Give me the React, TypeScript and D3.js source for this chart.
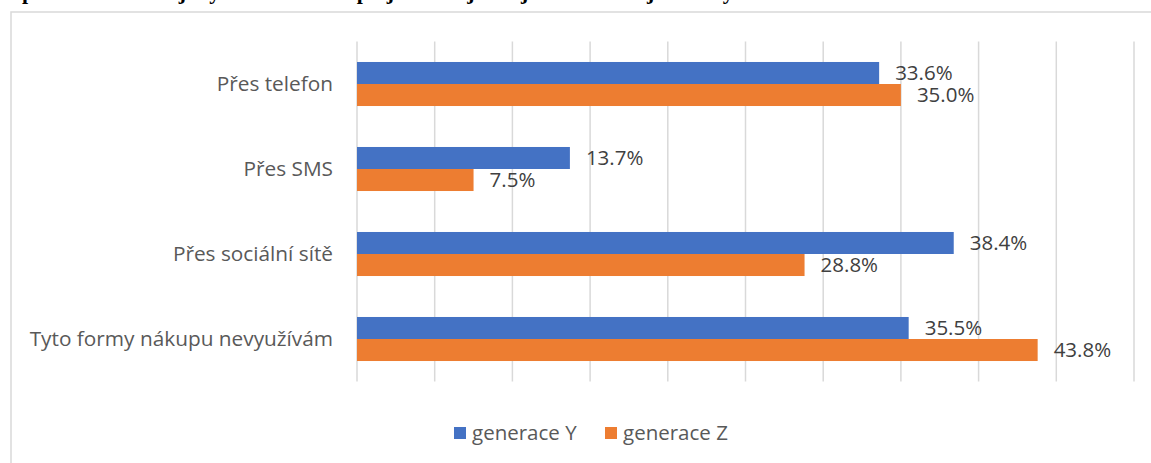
import * as d3 from "d3";

const categories = [
  "Přes telefon",
  "Přes SMS",
  "Přes sociální sítě",
  "Tyto formy nákupu nevyužívám",
];
const seriesNames = ["generace Y", "generace Z"];
const genY = [33.6, 13.7, 38.4, 35.5];
const genZ = [35.0, 7.5, 28.8, 43.8];
const xTicks = [0, 5, 10, 15, 20, 25, 30, 35, 40, 45, 50];
const titleText = "prostřednictvím jakých forem nákupu jste si nejčastěji zadávali objednávky?";

const COLORS = ["#4472C4", "#ED7D31"];
const W = 1151;
const H = 463;
const FONT = "'Open Sans', 'Noto Sans', sans-serif";

export default function App() {
  const series = [genY, genZ];
  const x = d3.scaleLinear().domain([0, 50]).range([357, 1134]);
  const y = d3
    .scaleBand<string>()
    .domain(categories)
    .range([41.5, 381.5])
    .paddingInner(0.482)
    .paddingOuter(0.241);
  const inner = d3
    .scaleBand<string>()
    .domain(seriesNames)
    .range([0, y.bandwidth()]);

  return (
    <div style={{ position: "fixed", left: 0, top: 0 }}>
      <svg width={W} height={H} viewBox={`0 0 ${W} ${H}`} style={{ display: "block", background: "#fff" }}>
        {/* caption of the figure, cropped at the top edge */}
        <text
          x={22}
          y={-1}
          fontFamily="'Liberation Serif', 'Times New Roman', serif"
          fontWeight="bold"
          fontSize={22}
          fill="#000"
        >
          {titleText}
        </text>

        {/* chart area border */}
        <rect x={11} y={12} width={W + 20} height={H + 20} fill="#fff" stroke="#d9d9d9" strokeWidth={1.5} />

        {/* gridlines */}
        {xTicks.map((t) => (
          <line
            key={t}
            x1={x(t)}
            x2={x(t)}
            y1={41.5}
            y2={381.5}
            stroke="#d9d9d9"
            strokeWidth={1.5}
          />
        ))}

        {/* bars + value labels */}
        {categories.map((c, i) =>
          seriesNames.map((s, j) => {
            const v = series[j][i];
            const by = (y(c) ?? 0) + (inner(s) ?? 0);
            return (
              <g key={c + s}>
                <rect
                  x={x(0)}
                  y={by}
                  width={x(v) - x(0)}
                  height={inner.bandwidth()}
                  fill={COLORS[j]}
                />
                <text
                  x={x(v) + 16}
                  y={by + inner.bandwidth() / 2}
                  dy="0.35em"
                  fontFamily={FONT}
                  fontSize={20.5}
                  fill="#404040"
                >
                  {v.toFixed(1)}%
                </text>
              </g>
            );
          })
        )}

        {/* category labels */}
        {categories.map((c) => (
          <text
            key={c}
            x={333}
            y={(y(c) ?? 0) + y.bandwidth() / 2}
            dy="0.35em"
            textAnchor="end"
            fontFamily={FONT}
            fontSize={20.8}
            fill="#595959"
          >
            {c}
          </text>
        ))}

        {/* legend */}
        {seriesNames.map((s, j) => {
          const lx = j === 0 ? 454 : 605;
          return (
            <g key={s}>
              <rect x={lx} y={427} width={12} height={12} fill={COLORS[j]} />
              <text x={lx + 18} y={433} dy="0.35em" fontFamily={FONT} fontSize={20.5} fill="#595959">
                {s}
              </text>
            </g>
          );
        })}
      </svg>
    </div>
  );
}
